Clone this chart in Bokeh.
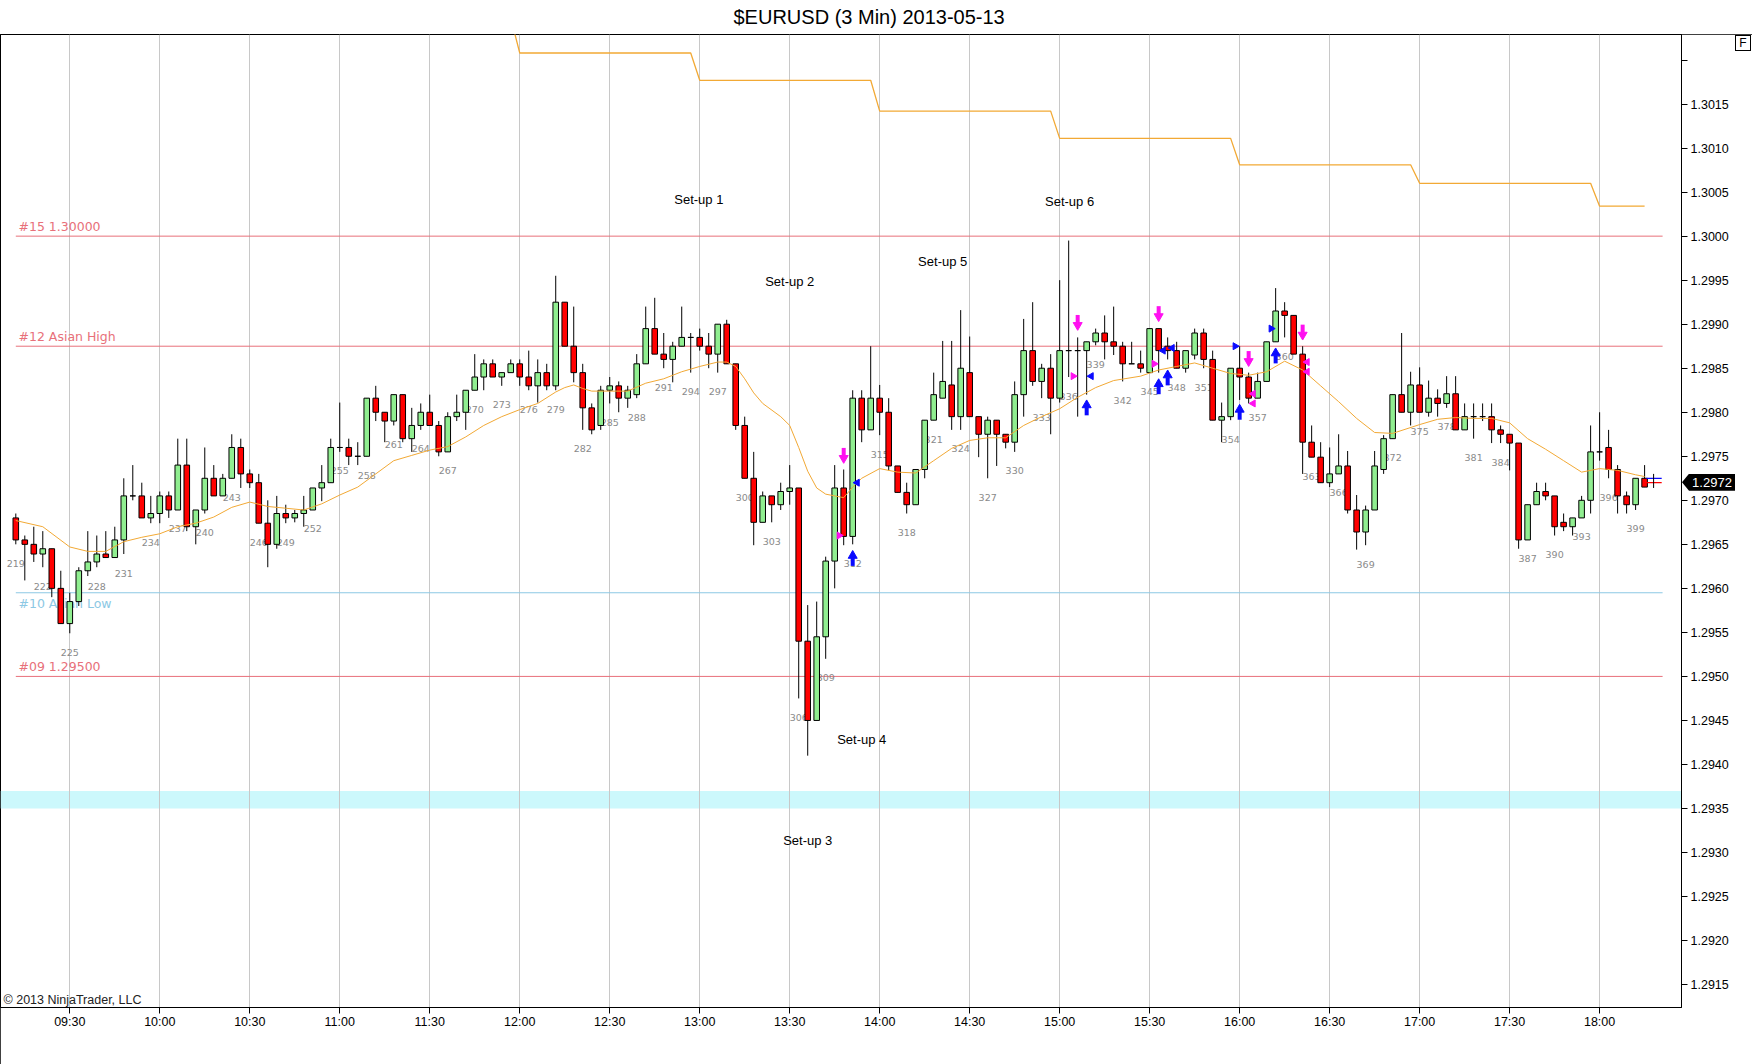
import math
from bokeh.plotting import figure
from bokeh.models import ColumnDataSource, FixedTicker, BoxAnnotation, Div, Range1d, NumeralTickFormatter
from bokeh.layouts import column
from bokeh.embed import file_html
from bokeh.resources import INLINE
from bokeh.core.properties import value

TITLE = "$EURUSD (3 Min)  2013-05-13"

# ---------------- data ----------------
bar_numbers = list(range(219, 401))

opens = [
    1.29680, 1.29655, 1.29650, 1.29639, 1.29645, 1.29600, 1.29560, 1.29585, 1.29620, 1.29630,
    1.29639, 1.29635, 1.29655, 1.29705, 1.29705, 1.29680, 1.29685, 1.29705, 1.29689, 1.29740,
    1.29670, 1.29689, 1.29725, 1.29705, 1.29725, 1.29760, 1.29730, 1.29720, 1.29674, 1.29650,
    1.29685, 1.29680, 1.29685, 1.29689, 1.29714, 1.29720, 1.29760, 1.29760, 1.29750, 1.29750,
    1.29816, 1.29800, 1.29790, 1.29820, 1.29770, 1.29785, 1.29800, 1.29785, 1.29755, 1.29795,
    1.29800, 1.29825, 1.29840, 1.29855, 1.29840, 1.29845, 1.29855, 1.29840, 1.29830, 1.29845,
    1.29830, 1.29925, 1.29875, 1.29845, 1.29805, 1.29785, 1.29825, 1.29830, 1.29816, 1.29820,
    1.29855, 1.29895, 1.29866, 1.29860, 1.29875, 1.29885, 1.29885, 1.29875, 1.29866, 1.29900,
    1.29855, 1.29785, 1.29725, 1.29675, 1.29705, 1.29695, 1.29710, 1.29714, 1.29540, 1.29450,
    1.29545, 1.29631, 1.29714, 1.29659, 1.29816, 1.29780, 1.29816, 1.29800, 1.29739, 1.29709,
    1.29695, 1.29735, 1.29791, 1.29816, 1.29831, 1.29795, 1.29845, 1.29795, 1.29775, 1.29791,
    1.29775, 1.29766, 1.29820, 1.29870, 1.29835, 1.29850, 1.29816, 1.29870, 1.29870, 1.29870,
    1.29880, 1.29890, 1.29880, 1.29875, 1.29855, 1.29855, 1.29845, 1.29895, 1.29875, 1.29870,
    1.29850, 1.29865, 1.29890, 1.29860, 1.29791, 1.29795, 1.29850, 1.29840, 1.29816, 1.29835,
    1.29880, 1.29915, 1.29910, 1.29866, 1.29766, 1.29749, 1.29720, 1.29730, 1.29739, 1.29689,
    1.29664, 1.29689, 1.29735, 1.29770, 1.29820, 1.29800, 1.29831, 1.29800, 1.29816, 1.29810,
    1.29821, 1.29780, 1.29795, 1.29795, 1.29795, 1.29780, 1.29775, 1.29765, 1.29655, 1.29695,
    1.29710, 1.29705, 1.29675, 1.29670, 1.29680, 1.29700, 1.29755, 1.29760, 1.29735, 1.29705,
    1.29695, 1.29725,
]
highs = [
    1.29685, 1.29660, 1.29670, 1.29665, 1.29645, 1.29620, 1.29595, 1.29624, 1.29665, 1.29660,
    1.29665, 1.29670, 1.29725, 1.29740, 1.29720, 1.29705, 1.29710, 1.29710, 1.29770, 1.29770,
    1.29689, 1.29760, 1.29740, 1.29730, 1.29775, 1.29770, 1.29735, 1.29730, 1.29700, 1.29705,
    1.29695, 1.29689, 1.29705, 1.29714, 1.29740, 1.29770, 1.29811, 1.29770, 1.29766, 1.29816,
    1.29830, 1.29800, 1.29820, 1.29820, 1.29805, 1.29810, 1.29820, 1.29790, 1.29800, 1.29820,
    1.29825, 1.29866, 1.29860, 1.29860, 1.29845, 1.29860, 1.29860, 1.29870, 1.29860, 1.29855,
    1.29955, 1.29925, 1.29920, 1.29855, 1.29810, 1.29830, 1.29840, 1.29835, 1.29830, 1.29866,
    1.29920, 1.29930, 1.29890, 1.29880, 1.29920, 1.29890, 1.29895, 1.29890, 1.29900, 1.29905,
    1.29855, 1.29795, 1.29755, 1.29710, 1.29705, 1.29720, 1.29740, 1.29714, 1.29581, 1.29585,
    1.29636, 1.29740, 1.29735, 1.29825, 1.29825, 1.29875, 1.29831, 1.29816, 1.29739, 1.29720,
    1.29735, 1.29791, 1.29845, 1.29881, 1.29881, 1.29916, 1.29886, 1.29795, 1.29795, 1.29791,
    1.29775, 1.29835, 1.29906, 1.29925, 1.29855, 1.29866, 1.29950, 1.29995, 1.29885, 1.29880,
    1.29895, 1.29910, 1.29920, 1.29880, 1.29880, 1.29870, 1.29895, 1.29895, 1.29885, 1.29880,
    1.29870, 1.29895, 1.29895, 1.29870, 1.29811, 1.29850, 1.29875, 1.29845, 1.29845, 1.29880,
    1.29941, 1.29925, 1.29910, 1.29875, 1.29785, 1.29766, 1.29760, 1.29775, 1.29756, 1.29706,
    1.29694, 1.29756, 1.29774, 1.29820, 1.29890, 1.29846, 1.29851, 1.29836, 1.29826, 1.29841,
    1.29841, 1.29810, 1.29810, 1.29810, 1.29810, 1.29785, 1.29775, 1.29765, 1.29695, 1.29720,
    1.29720, 1.29705, 1.29685, 1.29680, 1.29705, 1.29785, 1.29800, 1.29780, 1.29740, 1.29710,
    1.29725, 1.29740,
]
lows = [
    1.29650, 1.29609, 1.29630, 1.29624, 1.29590, 1.29560, 1.29549, 1.29580, 1.29614, 1.29624,
    1.29635, 1.29635, 1.29639, 1.29700, 1.29680, 1.29674, 1.29674, 1.29680, 1.29689, 1.29665,
    1.29650, 1.29685, 1.29705, 1.29705, 1.29725, 1.29714, 1.29714, 1.29674, 1.29624, 1.29645,
    1.29674, 1.29675, 1.29670, 1.29689, 1.29699, 1.29720, 1.29755, 1.29740, 1.29740, 1.29750,
    1.29790, 1.29766, 1.29785, 1.29766, 1.29755, 1.29780, 1.29785, 1.29750, 1.29755, 1.29790,
    1.29780, 1.29825, 1.29825, 1.29840, 1.29830, 1.29845, 1.29830, 1.29825, 1.29811, 1.29825,
    1.29825, 1.29875, 1.29834, 1.29780, 1.29775, 1.29780, 1.29810, 1.29800, 1.29805, 1.29816,
    1.29855, 1.29866, 1.29850, 1.29834, 1.29875, 1.29845, 1.29870, 1.29850, 1.29845, 1.29855,
    1.29780, 1.29725, 1.29649, 1.29675, 1.29675, 1.29689, 1.29695, 1.29475, 1.29410, 1.29450,
    1.29520, 1.29600, 1.29649, 1.29650, 1.29766, 1.29780, 1.29774, 1.29734, 1.29709, 1.29685,
    1.29695, 1.29725, 1.29791, 1.29816, 1.29780, 1.29780, 1.29795, 1.29749, 1.29725, 1.29739,
    1.29759, 1.29755, 1.29795, 1.29830, 1.29816, 1.29775, 1.29811, 1.29840, 1.29795, 1.29820,
    1.29876, 1.29860, 1.29865, 1.29835, 1.29855, 1.29845, 1.29845, 1.29845, 1.29860, 1.29850,
    1.29845, 1.29860, 1.29850, 1.29791, 1.29766, 1.29791, 1.29814, 1.29810, 1.29816, 1.29835,
    1.29880, 1.29885, 1.29866, 1.29730, 1.29749, 1.29720, 1.29715, 1.29730, 1.29685, 1.29644,
    1.29649, 1.29689, 1.29730, 1.29770, 1.29800, 1.29785, 1.29800, 1.29795, 1.29795, 1.29805,
    1.29780, 1.29780, 1.29770, 1.29790, 1.29765, 1.29765, 1.29734, 1.29645, 1.29655, 1.29695,
    1.29700, 1.29660, 1.29665, 1.29660, 1.29680, 1.29685, 1.29745, 1.29725, 1.29685, 1.29685,
    1.29689, 1.29715,
]
closes = [
    1.29655, 1.29650, 1.29639, 1.29645, 1.29600, 1.29560, 1.29585, 1.29620, 1.29630, 1.29639,
    1.29635, 1.29655, 1.29705, 1.29705, 1.29680, 1.29685, 1.29705, 1.29689, 1.29740, 1.29670,
    1.29689, 1.29725, 1.29705, 1.29725, 1.29760, 1.29730, 1.29720, 1.29674, 1.29650, 1.29685,
    1.29680, 1.29685, 1.29689, 1.29714, 1.29720, 1.29760, 1.29760, 1.29750, 1.29750, 1.29816,
    1.29800, 1.29790, 1.29820, 1.29770, 1.29785, 1.29800, 1.29785, 1.29755, 1.29795, 1.29800,
    1.29825, 1.29840, 1.29855, 1.29840, 1.29845, 1.29855, 1.29840, 1.29830, 1.29845, 1.29830,
    1.29925, 1.29875, 1.29845, 1.29805, 1.29780, 1.29825, 1.29830, 1.29816, 1.29825, 1.29855,
    1.29895, 1.29866, 1.29860, 1.29875, 1.29885, 1.29885, 1.29875, 1.29866, 1.29900, 1.29855,
    1.29785, 1.29725, 1.29675, 1.29705, 1.29695, 1.29710, 1.29714, 1.29540, 1.29450, 1.29545,
    1.29631, 1.29714, 1.29659, 1.29816, 1.29780, 1.29816, 1.29800, 1.29739, 1.29709, 1.29695,
    1.29735, 1.29791, 1.29820, 1.29835, 1.29795, 1.29850, 1.29795, 1.29775, 1.29791, 1.29775,
    1.29766, 1.29820, 1.29870, 1.29835, 1.29850, 1.29816, 1.29870, 1.29870, 1.29870, 1.29880,
    1.29890, 1.29880, 1.29875, 1.29855, 1.29855, 1.29850, 1.29895, 1.29870, 1.29870, 1.29850,
    1.29870, 1.29890, 1.29860, 1.29791, 1.29795, 1.29850, 1.29840, 1.29816, 1.29835, 1.29880,
    1.29915, 1.29910, 1.29866, 1.29766, 1.29749, 1.29720, 1.29730, 1.29739, 1.29689, 1.29664,
    1.29689, 1.29739, 1.29770, 1.29820, 1.29800, 1.29831, 1.29800, 1.29816, 1.29810, 1.29821,
    1.29780, 1.29795, 1.29795, 1.29795, 1.29780, 1.29775, 1.29765, 1.29655, 1.29695, 1.29710,
    1.29705, 1.29670, 1.29670, 1.29680, 1.29700, 1.29755, 1.29755, 1.29735, 1.29705, 1.29695,
    1.29725, 1.29715,
]

# moving average (orange thin line), read at sampled bars
ma_bars = [219, 222, 225, 227, 229, 231, 233, 235, 237, 239, 241, 243, 245, 247, 249, 251, 253,
           255, 257, 259, 261, 263, 265, 267, 269, 271, 273, 275, 277, 279, 280, 281, 282, 283,
           285, 287, 289, 291, 293, 295, 297, 298, 299, 300, 301, 302, 304, 305, 306, 307, 308,
           309, 310, 311, 312, 313, 315, 317, 319, 321, 323, 325, 327, 329, 331, 333, 335, 337,
           339, 341, 344, 346, 348, 350, 352, 354, 356, 358, 360, 362, 364, 366, 368, 370, 372,
           375, 377, 379, 381, 383, 385, 387, 389, 391, 393, 395, 397, 399, 400]
ma_values = [1.29677, 1.29670, 1.29647, 1.29642, 1.29642, 1.29653, 1.29658, 1.29662, 1.29670,
             1.29674, 1.29681, 1.29692, 1.29698, 1.29693, 1.29691, 1.29689, 1.29696, 1.29706,
             1.29715, 1.29730, 1.29745, 1.29751, 1.29757, 1.29761, 1.29772, 1.29785, 1.29795,
             1.29803, 1.29810, 1.29823, 1.29828, 1.29831, 1.29827, 1.29824, 1.29824, 1.29824,
             1.29833, 1.29838, 1.29846, 1.29852, 1.29857, 1.29857, 1.29852, 1.29838, 1.29822,
             1.29810, 1.29795, 1.29785, 1.29760, 1.29733, 1.29714, 1.29707, 1.29705, 1.29703,
             1.29715, 1.29725, 1.29736, 1.29732, 1.29731, 1.29745, 1.29759, 1.29768, 1.29771,
             1.29771, 1.29785, 1.29795, 1.29804, 1.29817, 1.29828, 1.29836, 1.29841, 1.29848,
             1.29852, 1.29856, 1.29850, 1.29844, 1.29842, 1.29846, 1.29858, 1.29848, 1.29830,
             1.29812, 1.29793, 1.29777, 1.29776, 1.29786, 1.29792, 1.29794, 1.29793, 1.29793,
             1.29788, 1.29770, 1.29758, 1.29745, 1.29732, 1.29736, 1.29734, 1.29729, 1.29727]

# hourly stepped level (orange line at top)
step_start_bars = [255, 275, 295, 315, 335, 355, 375, 395]
step_end_bars = [274, 294, 314, 334, 354, 374, 394, 400]
step_values = [1.30248, 1.30208, 1.30177, 1.30142, 1.30111, 1.30081, 1.30060, 1.30034]

# horizontal levels
level_prices = [1.30000, 1.29875, 1.29595, 1.29500]
level_texts = ["#15 1.30000", "#12 Asian High", "#10 Asian Low", "#09 1.29500"]
level_kinds = ["red", "red", "blue", "red"]
level_label_side = ["above", "above", "below", "above"]

# cyan zone
zone_bottom, zone_top = 1.29350, 1.29370

# set-up annotations
setup_texts = ["Set-up 1", "Set-up 2", "Set-up 3", "Set-up 4", "Set-up 5", "Set-up 6"]
setup_bars = [294.9, 305.0, 307.0, 313.0, 322.0, 336.1]
setup_prices = [1.30042, 1.29949, 1.29314, 1.29428, 1.29971, 1.30039]

# signal arrows (tip price)
down_arrow_bars = [311, 337, 346, 356, 362]
down_arrow_tips = [1.29742, 1.29893, 1.29903, 1.29852, 1.29882]
up_arrow_bars = [312, 338, 346, 347, 355, 359]
up_arrow_tips = [1.29643, 1.29814, 1.29838, 1.29848, 1.29809, 1.29873]

# small triangle markers: bar, price, side of bar (-1 left / +1 right), pointing, colour
tri_bars = [311, 337, 346, 356, 356, 362, 362, 312, 338, 346, 347, 355, 359]
tri_prices = [1.29660, 1.29841, 1.29855, 1.29821, 1.29810, 1.29857, 1.29846,
              1.29720, 1.29841, 1.29870, 1.29873, 1.29875, 1.29895]
tri_sides = [-1, -1, -1, 1, 1, 1, 1, 1, 1, 1, 1, -1, -1]
tri_points = ["right", "right", "right", "left", "left", "left", "left",
              "left", "left", "left", "left", "right", "right"]
tri_colors = ["magenta"] * 7 + ["blue"] * 6

last_bid, last_ask = 1.29720, 1.29725
last_price_text = "1.2972"

time_tick_bars = [225, 235, 245, 255, 265, 275, 285, 295, 305, 315, 325, 335, 345, 355, 365, 375, 385, 395]
time_labels = ["09:30", "10:00", "10:30", "11:00", "11:30", "12:00", "12:30", "13:00", "13:30",
               "14:00", "14:30", "15:00", "15:30", "16:00", "16:30", "17:00", "17:30", "18:00"]
price_ticks = [1.2915, 1.2920, 1.2925, 1.2930, 1.2935, 1.2940, 1.2945, 1.2950, 1.2955, 1.2960,
               1.2965, 1.2970, 1.2975, 1.2980, 1.2985, 1.2990, 1.2995, 1.3000, 1.3005, 1.3010,
               1.3015, 1.3020]

# ---------------- layout constants ----------------
W, H_TITLE, H_MAIN = 1752, 34, 1030
FRAME_W, FRAME_H = 1681, 973
X0, X1 = 217.3, 404.1
Y0, Y1 = 1.29124, 1.30229
PX = (Y1 - Y0) / FRAME_H      # price per pixel
BX = (X1 - X0) / FRAME_W      # bar per pixel

RED_LVL = "#e8707a"
BLUE_LVL = "#8cc8e4"
MAGENTA = "#ff10f0"
BLUE = "#0a0aff"
ORANGE = "#f2a935"

# ---------------- title figure ----------------
tp = figure(width=W, height=H_TITLE, x_range=Range1d(0, FRAME_W), y_range=Range1d(0, H_TITLE),
            toolbar_location=None, output_backend="svg", x_axis_location=None,
            y_axis_location=None, min_border_left=0, min_border_right=W - FRAME_W,
            min_border_top=0, min_border_bottom=0, outline_line_color=None)
tp.grid.visible = False
tp.text(x=[733], y=[18], text=[TITLE], text_align="left", text_baseline="middle",
        text_font=value("Liberation Sans"), text_font_size="20px", text_color="black")

# ---------------- main figure ----------------
p = figure(width=W, height=H_MAIN, x_range=Range1d(X0, X1), y_range=Range1d(Y0, Y1),
           y_axis_location="right", toolbar_location=None, output_backend="svg",
           min_border_left=0, min_border_right=W - FRAME_W, min_border_top=0,
           min_border_bottom=H_MAIN - FRAME_H)
p.styles = {"outline": "1px solid black", "outline-offset": "-1px"}
p.outline_line_color = "black"
p.outline_line_alpha = 1.0
p.background_fill_color = "white"

# axes
p.xaxis.ticker = FixedTicker(ticks=time_tick_bars)
p.xaxis.major_label_overrides = {b: t for b, t in zip(time_tick_bars, time_labels)}
p.yaxis.ticker = FixedTicker(ticks=price_ticks)
p.yaxis.formatter = NumeralTickFormatter(format="0.0000")
ovr = {t: f"{t:.4f}" for t in price_ticks}
ovr[price_ticks[-1]] = ""
p.yaxis.major_label_overrides = ovr
for ax in (p.xaxis, p.yaxis):
    ax.axis_line_color = "black"
    ax.major_tick_line_color = "black"
    ax.major_tick_out = 6
    ax.major_tick_in = 0
    ax.minor_tick_line_color = None
    ax.major_label_text_font = "Liberation Sans"
    ax.major_label_text_font_size = "12.5px"
    ax.major_label_text_color = "black"
p.xaxis.major_label_standoff = 1
p.yaxis.major_label_standoff = 3

p.xgrid.ticker = FixedTicker(ticks=time_tick_bars)
p.xgrid.grid_line_color = "#c8c8c8"
p.ygrid.visible = False

# cyan zone
p.add_layout(BoxAnnotation(bottom=zone_bottom, top=zone_top, fill_color="#ccf8fc",
                           fill_alpha=1.0, line_color=None, level="image"))

# horizontal levels
lvl_colors = [RED_LVL if k == "red" else BLUE_LVL for k in level_kinds]
p.segment(x0=[219.0] * 4, y0=level_prices, x1=[402.0] * 4, y1=level_prices,
          color=lvl_colors, line_width=1)
for price, txt, col, side in zip(level_prices, level_texts, lvl_colors, level_label_side):
    p.text(x=[219.3], y=[price], text=[txt], text_color=col, text_font=value("DejaVu Sans"),
           text_font_size="12.5px",
           text_baseline="bottom" if side == "above" else "top",
           y_offset=-2 if side == "above" else 3)

# hourly stepped line
sx, sy = [], []
for s, e, v in zip(step_start_bars, step_end_bars, step_values):
    sx += [s, e]
    sy += [v, v]
p.line(sx, sy, color=ORANGE, line_width=1.3)

# bar number labels
lab_idx = [i for i, b in enumerate(bar_numbers) if (b - 219) % 3 == 0]
p.text(x=[bar_numbers[i] for i in lab_idx], y=[lows[i] for i in lab_idx],
       text=[str(bar_numbers[i]) for i in lab_idx], text_align="center",
       text_baseline="middle", y_offset=19, text_color="#8a8a8a",
       text_font=value("DejaVu Sans"), text_font_size="9.5px")

# candles
tops = [max(o, c) for o, c in zip(opens, closes)]
bots = [min(o, c) for o, c in zip(opens, closes)]
cols = ["#ff0000" if c < o else "#90ee90" for o, c in zip(opens, closes)]
csrc = ColumnDataSource(dict(x=bar_numbers, h=highs, l=lows, top=tops, bot=bots, c=cols))
p.segment(x0="x", y0="h", x1="x", y1="l", color="black", line_width=1, source=csrc)
p.vbar(x="x", width=0.62, top="top", bottom="bot", fill_color="c", line_color="black",
       line_width=1, source=csrc)

# moving average
p.line(ma_bars, ma_values, color=ORANGE, line_width=1)

# set-up labels
p.text(x=setup_bars, y=setup_prices, text=setup_texts, text_align="center",
       text_baseline="middle", text_font=value("Liberation Sans"), text_font_size="13px",
       text_color="black")

# arrows
p.scatter(down_arrow_bars, [t + 5.2 * PX for t in down_arrow_tips],
          marker="inverted_triangle", size=9, fill_color=MAGENTA, line_color=MAGENTA)
p.rect(down_arrow_bars, [t + 11.4 * PX for t in down_arrow_tips],
       width=4, height=8, width_units="screen", height_units="screen",
       fill_color=MAGENTA, line_color=None)
p.scatter(up_arrow_bars, [t - 5.2 * PX for t in up_arrow_tips],
          marker="triangle", size=9, fill_color=BLUE, line_color=BLUE)
p.rect(up_arrow_bars, [t - 11.4 * PX for t in up_arrow_tips],
       width=4, height=8, width_units="screen", height_units="screen",
       fill_color=BLUE, line_color=None)

# small triangles
tri_x = [b + s * 0.5 for b, s in zip(tri_bars, tri_sides)]
tri_ang = [math.pi / 2 if d == "left" else -math.pi / 2 for d in tri_points]
tri_c = [MAGENTA if c == "magenta" else BLUE for c in tri_colors]
p.scatter(tri_x, tri_prices, marker="triangle", size=7, angle=tri_ang,
          fill_color=tri_c, line_color=tri_c)

# last bid/ask marker
p.segment(x0=[400.2, 400.2], y0=[last_ask, last_bid], x1=[401.9, 401.9], y1=[last_ask, last_bid],
          color=[BLUE, "#ff0000"], line_width=1.2)
p.segment(x0=[401.0], y0=[last_bid - 0.00006], x1=[401.0], y1=[last_ask + 0.00005],
          color="black", line_width=1)

# copyright
p.text(x=[X0 + 3 * BX], y=[Y0 + 8 * PX], text=["© 2013 NinjaTrader, LLC"],
       text_baseline="middle", text_font=value("Liberation Sans"), text_font_size="12.5px",
       text_color="#222222")

# last price marker on the price axis and the "F" box (placed over the axis area)
marker_top = H_TITLE + (Y1 - last_bid) / PX - 8.5
price_div = Div(text=last_price_text, width=53, height=17, margin=0, styles={
    "position": "fixed", "left": f"{FRAME_W + 1}px", "top": f"{marker_top:.1f}px",
    "background-color": "black", "color": "white", "font-family": "Liberation Sans",
    "font-size": "13px", "line-height": "17px", "text-align": "center",
    "padding-left": "7px", "box-sizing": "border-box", "overflow": "hidden",
    "clip-path": "polygon(0 50%, 7px 0, 100% 0, 100% 100%, 7px 100%)"})
f_div = Div(text="F", width=16, height=16, margin=0, styles={
    "position": "fixed", "left": f"{W - 17}px", "top": f"{H_TITLE + 1}px",
    "border": "1px solid black", "box-sizing": "border-box", "background-color": "white",
    "color": "black", "font-family": "Liberation Sans", "font-size": "12px",
    "line-height": "14px", "text-align": "center", "overflow": "hidden"})

root = column(tp, p, price_div, f_div, spacing=0)
open("out.html", "w").write(file_html(root, INLINE))
